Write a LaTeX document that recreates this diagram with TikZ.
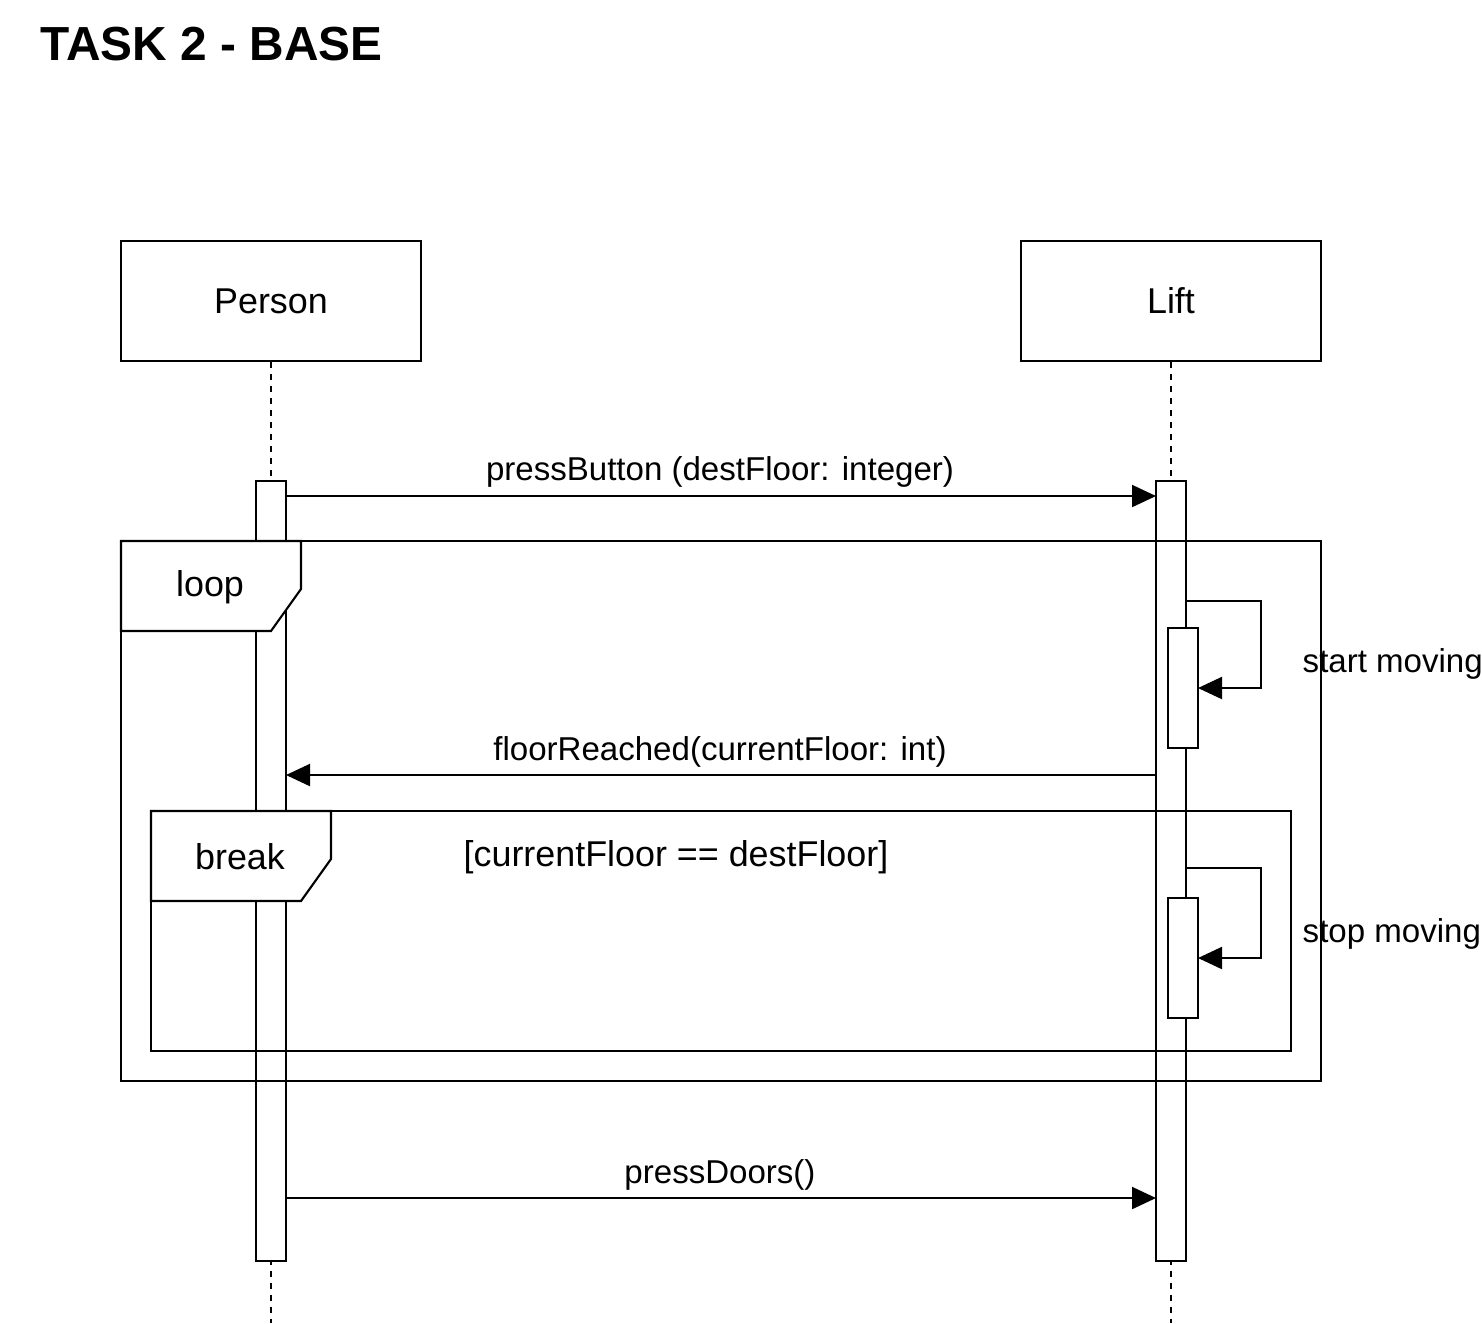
\documentclass[tikz,border=0pt]{standalone}
\usepackage{fontspec}
\setmainfont{Liberation Sans}
\usetikzlibrary{arrows.meta}
\usetikzlibrary{calc}

\tikzset{
	actor/.style={draw, line width=0.6pt, minimum width=3cm, minimum height=1.2cm, font=\fontsize{10.2}{12}\selectfont},
	lifeline/.style={line width=0.6pt, dash pattern=on 1.7pt off 1.7pt},
	bar/.style={draw, fill=white, line width=0.6pt},
	frame/.style={draw, line width=0.6pt},
	msg/.style={line width=0.6pt, -{Triangle[length=0.24cm, width=0.22cm]}},
	lbl/.style={inner sep=0pt, font=\fontsize{9.4}{11}\selectfont},
	framelbl/.style={inner sep=0pt, font=\fontsize{10.2}{12}\selectfont}
}

\begin{document}
\begin{tikzpicture}[x=0.01cm, y=-0.01cm]
		\useasboundingbox (0,0) rectangle (1482,1323);
		\node[lbl, anchor=west, font=\fontsize{13.6}{16}\selectfont\bfseries] (title) at (40,44) {TASK 2 - BASE};

		% actors and lifelines
		\node[actor] (person) at (271,301) {Person};
		\node[actor] (lift) at (1171,301) {Lift};
		\coordinate (personend) at (271,1323);
		\coordinate (liftend) at (1171,1323);
		\draw[lifeline] (person) -- (personend);
		\draw[lifeline] (lift) -- (liftend);

		% activation bars
		\draw[bar] (256,481) rectangle (286,1261);
		\draw[bar] (1156,481) rectangle (1186,1261);

		% frames
		\draw[frame] (121,541) rectangle (1321,1081);
		\draw[frame] (151,811) rectangle (1291,1051);
		\draw[frame, fill=white] (121,541) -- (301,541) -- (301,589) -- (271,631) -- (121,631) -- cycle;
		\draw[frame, fill=white] (151,811) -- (331,811) -- (331,859) -- (301,901) -- (151,901) -- cycle;
		\node[framelbl] (looplbl) at (210,587) {loop};
		\node[framelbl] (breaklbl) at (240,857) {break};
		\node[framelbl] (guard) at (676,857) {[currentFloor == destFloor]};

		% nested bars
		\draw[bar] (1168,628) rectangle (1198,748);
		\draw[bar] (1168,898) rectangle (1198,1018);

		% messages
		\coordinate (m1s) at (286,496);
		\coordinate (m1e) at (1156,496);
		\draw[msg] (m1s) -- (m1e);
		\node[lbl] (m1lbl) at (720,472) {pressButton (destFloor: integer)};

		\coordinate (s1s) at (1186,601);
		\coordinate (s1e) at (1198,688);
		\draw[msg] (s1s) -- (1261,601) |- (s1e);
		\node[lbl, anchor=west] (s1lbl) at (1302,664) {start moving};

		\coordinate (m2s) at (1156,775);
		\coordinate (m2e) at (286,775);
		\draw[msg] (m2s) -- (m2e);
		\node[lbl] (m2lbl) at (720,752) {floorReached(currentFloor: int)};

		\coordinate (s2s) at (1186,868);
		\coordinate (s2e) at (1198,958);
		\draw[msg] (s2s) -- (1261,868) |- (s2e);
		\node[lbl, anchor=west] (s2lbl) at (1302,934) {stop moving};

		\coordinate (m3s) at (286,1198);
		\coordinate (m3e) at (1156,1198);
		\draw[msg] (m3s) -- (m3e);
		\node[lbl] (m3lbl) at (720,1175) {pressDoors()};
	\end{tikzpicture}
\end{document}
